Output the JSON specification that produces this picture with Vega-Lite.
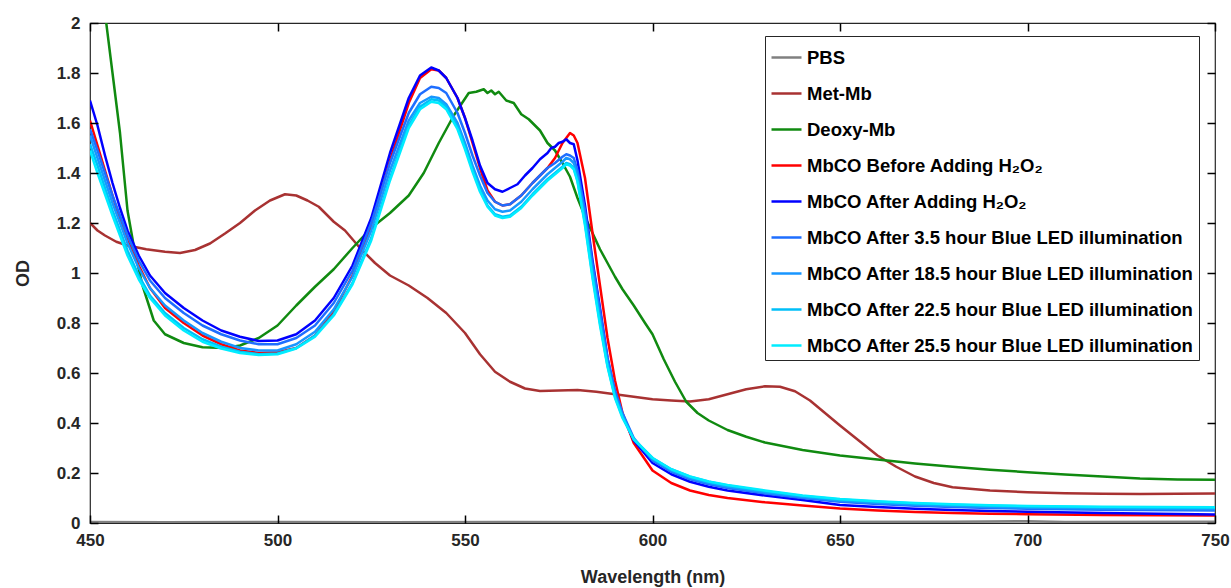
{
"$schema":"https://vega.github.io/schema/vega-lite/v6.json",
"width":1125,"height":500,
"autosize":{"type":"none"},
"padding":{"left":90,"top":23,"right":16,"bottom":65},
"background":"white",
"config":{"view":{"stroke":"#262626","strokeWidth":1.2},"font":"Liberation Sans",
"axis":{"labelFont":"Liberation Sans","labelFontWeight":"bold","labelFontSize":17,"labelColor":"#262626","labelFlush":false,"titleFont":"Liberation Sans","titleFontWeight":"bold","titleFontSize":18,"titleColor":"#262626","grid":false,"domain":false}},
"data":{"values":[
{"s":"p","x":450,"y":0.004},{"s":"p","x":470,"y":0.003},{"s":"p","x":500,"y":0.004},{"s":"p","x":530,"y":0.003},{"s":"p","x":560,"y":0.004},{"s":"p","x":600,"y":0.003},{"s":"p","x":640,"y":0.004},{"s":"p","x":680,"y":0.005},{"s":"p","x":700,"y":0.007},{"s":"p","x":710,"y":0.004},{"s":"p","x":750,"y":0.005},
{"s":"m","x":450,"y":1.2},{"s":"m","x":452,"y":1.17},{"s":"m","x":454,"y":1.15},{"s":"m","x":457,"y":1.125},{"s":"m","x":460,"y":1.11},{"s":"m","x":465,"y":1.095},{"s":"m","x":470,"y":1.085},{"s":"m","x":474,"y":1.08},{"s":"m","x":478,"y":1.092},{"s":"m","x":482,"y":1.118},{"s":"m","x":486,"y":1.158},{"s":"m","x":490,"y":1.2},{"s":"m","x":494,"y":1.25},{"s":"m","x":498,"y":1.29},{"s":"m","x":502,"y":1.315},{"s":"m","x":505,"y":1.31},{"s":"m","x":508,"y":1.29},{"s":"m","x":511,"y":1.265},{"s":"m","x":515,"y":1.205},{"s":"m","x":518,"y":1.17},{"s":"m","x":522,"y":1.1},{"s":"m","x":526,"y":1.04},{"s":"m","x":530,"y":0.99},{"s":"m","x":535,"y":0.95},{"s":"m","x":540,"y":0.9},{"s":"m","x":545,"y":0.84},{"s":"m","x":550,"y":0.76},{"s":"m","x":554,"y":0.675},{"s":"m","x":558,"y":0.605},{"s":"m","x":562,"y":0.565},{"s":"m","x":566,"y":0.538},{"s":"m","x":570,"y":0.528},{"s":"m","x":575,"y":0.53},{"s":"m","x":580,"y":0.532},{"s":"m","x":585,"y":0.525},{"s":"m","x":590,"y":0.515},{"s":"m","x":595,"y":0.505},{"s":"m","x":600,"y":0.495},{"s":"m","x":605,"y":0.49},{"s":"m","x":610,"y":0.486},{"s":"m","x":615,"y":0.495},{"s":"m","x":620,"y":0.515},{"s":"m","x":625,"y":0.535},{"s":"m","x":630,"y":0.547},{"s":"m","x":634,"y":0.545},{"s":"m","x":638,"y":0.527},{"s":"m","x":642,"y":0.49},{"s":"m","x":646,"y":0.44},{"s":"m","x":650,"y":0.39},{"s":"m","x":655,"y":0.33},{"s":"m","x":660,"y":0.27},{"s":"m","x":665,"y":0.225},{"s":"m","x":670,"y":0.186},{"s":"m","x":675,"y":0.16},{"s":"m","x":680,"y":0.143},{"s":"m","x":690,"y":0.13},{"s":"m","x":700,"y":0.123},{"s":"m","x":710,"y":0.119},{"s":"m","x":720,"y":0.117},{"s":"m","x":730,"y":0.116},{"s":"m","x":740,"y":0.117},{"s":"m","x":750,"y":0.118},
{"s":"d","x":450,"y":2.55},{"s":"d","x":452,"y":2.27},{"s":"d","x":454,"y":2.04},{"s":"d","x":456,"y":1.8},{"s":"d","x":458,"y":1.56},{"s":"d","x":460,"y":1.25},{"s":"d","x":462,"y":1.08},{"s":"d","x":464,"y":0.95},{"s":"d","x":467,"y":0.81},{"s":"d","x":470,"y":0.755},{"s":"d","x":475,"y":0.72},{"s":"d","x":480,"y":0.703},{"s":"d","x":486,"y":0.7},{"s":"d","x":490,"y":0.71},{"s":"d","x":495,"y":0.74},{"s":"d","x":500,"y":0.79},{"s":"d","x":505,"y":0.87},{"s":"d","x":510,"y":0.945},{"s":"d","x":515,"y":1.015},{"s":"d","x":520,"y":1.1},{"s":"d","x":525,"y":1.18},{"s":"d","x":530,"y":1.24},{"s":"d","x":535,"y":1.31},{"s":"d","x":539,"y":1.4},{"s":"d","x":543,"y":1.52},{"s":"d","x":547,"y":1.63},{"s":"d","x":551,"y":1.72},{"s":"d","x":553,"y":1.725},{"s":"d","x":555,"y":1.735},{"s":"d","x":556,"y":1.72},{"s":"d","x":557,"y":1.73},{"s":"d","x":558,"y":1.715},{"s":"d","x":559,"y":1.725},{"s":"d","x":561,"y":1.69},{"s":"d","x":563,"y":1.68},{"s":"d","x":565,"y":1.635},{"s":"d","x":567,"y":1.615},{"s":"d","x":570,"y":1.57},{"s":"d","x":572,"y":1.52},{"s":"d","x":574,"y":1.49},{"s":"d","x":576,"y":1.44},{"s":"d","x":578,"y":1.385},{"s":"d","x":580,"y":1.3},{"s":"d","x":582,"y":1.225},{"s":"d","x":584,"y":1.16},{"s":"d","x":586,"y":1.095},{"s":"d","x":588,"y":1.04},{"s":"d","x":590,"y":0.985},{"s":"d","x":592,"y":0.935},{"s":"d","x":595,"y":0.87},{"s":"d","x":598,"y":0.8},{"s":"d","x":600,"y":0.755},{"s":"d","x":603,"y":0.655},{"s":"d","x":606,"y":0.565},{"s":"d","x":609,"y":0.485},{"s":"d","x":612,"y":0.44},{"s":"d","x":615,"y":0.41},{"s":"d","x":620,"y":0.372},{"s":"d","x":625,"y":0.345},{"s":"d","x":630,"y":0.322},{"s":"d","x":640,"y":0.292},{"s":"d","x":650,"y":0.27},{"s":"d","x":660,"y":0.254},{"s":"d","x":670,"y":0.238},{"s":"d","x":680,"y":0.225},{"s":"d","x":690,"y":0.213},{"s":"d","x":700,"y":0.203},{"s":"d","x":710,"y":0.194},{"s":"d","x":720,"y":0.186},{"s":"d","x":730,"y":0.178},{"s":"d","x":740,"y":0.174},{"s":"d","x":750,"y":0.173},
{"s":"r","x":450,"y":1.61},{"s":"r","x":452,"y":1.51},{"s":"r","x":454,"y":1.41},{"s":"r","x":456,"y":1.31},{"s":"r","x":458,"y":1.21},{"s":"r","x":460,"y":1.13},{"s":"r","x":463,"y":1.03},{"s":"r","x":466,"y":0.94},{"s":"r","x":470,"y":0.86},{"s":"r","x":475,"y":0.8},{"s":"r","x":480,"y":0.75},{"s":"r","x":485,"y":0.715},{"s":"r","x":490,"y":0.69},{"s":"r","x":495,"y":0.68},{"s":"r","x":500,"y":0.683},{"s":"r","x":505,"y":0.7},{"s":"r","x":510,"y":0.75},{"s":"r","x":515,"y":0.845},{"s":"r","x":520,"y":0.99},{"s":"r","x":525,"y":1.19},{"s":"r","x":530,"y":1.45},{"s":"r","x":535,"y":1.68},{"s":"r","x":538,"y":1.78},{"s":"r","x":541,"y":1.815},{"s":"r","x":543,"y":1.81},{"s":"r","x":545,"y":1.78},{"s":"r","x":548,"y":1.7},{"s":"r","x":550,"y":1.62},{"s":"r","x":552,"y":1.52},{"s":"r","x":554,"y":1.42},{"s":"r","x":556,"y":1.33},{"s":"r","x":558,"y":1.285},{"s":"r","x":560,"y":1.27},{"s":"r","x":562,"y":1.275},{"s":"r","x":565,"y":1.31},{"s":"r","x":568,"y":1.36},{"s":"r","x":570,"y":1.39},{"s":"r","x":572,"y":1.42},{"s":"r","x":574,"y":1.46},{"s":"r","x":576,"y":1.52},{"s":"r","x":578,"y":1.56},{"s":"r","x":579,"y":1.55},{"s":"r","x":580,"y":1.52},{"s":"r","x":582,"y":1.38},{"s":"r","x":584,"y":1.16},{"s":"r","x":586,"y":0.95},{"s":"r","x":588,"y":0.74},{"s":"r","x":590,"y":0.57},{"s":"r","x":592,"y":0.44},{"s":"r","x":595,"y":0.32},{"s":"r","x":600,"y":0.21},{"s":"r","x":605,"y":0.16},{"s":"r","x":610,"y":0.13},{"s":"r","x":615,"y":0.112},{"s":"r","x":620,"y":0.1},{"s":"r","x":630,"y":0.083},{"s":"r","x":640,"y":0.07},{"s":"r","x":650,"y":0.058},{"s":"r","x":660,"y":0.05},{"s":"r","x":670,"y":0.044},{"s":"r","x":680,"y":0.04},{"s":"r","x":690,"y":0.037},{"s":"r","x":700,"y":0.035},{"s":"r","x":720,"y":0.032},{"s":"r","x":750,"y":0.03},
{"s":"a","x":450,"y":1.69},{"s":"a","x":452,"y":1.59},{"s":"a","x":454,"y":1.47},{"s":"a","x":456,"y":1.36},{"s":"a","x":458,"y":1.26},{"s":"a","x":460,"y":1.17},{"s":"a","x":463,"y":1.07},{"s":"a","x":466,"y":0.99},{"s":"a","x":470,"y":0.92},{"s":"a","x":475,"y":0.86},{"s":"a","x":480,"y":0.81},{"s":"a","x":485,"y":0.77},{"s":"a","x":490,"y":0.745},{"s":"a","x":495,"y":0.728},{"s":"a","x":500,"y":0.73},{"s":"a","x":505,"y":0.755},{"s":"a","x":510,"y":0.81},{"s":"a","x":515,"y":0.9},{"s":"a","x":520,"y":1.03},{"s":"a","x":525,"y":1.22},{"s":"a","x":530,"y":1.48},{"s":"a","x":535,"y":1.7},{"s":"a","x":538,"y":1.79},{"s":"a","x":541,"y":1.822},{"s":"a","x":543,"y":1.81},{"s":"a","x":545,"y":1.78},{"s":"a","x":548,"y":1.7},{"s":"a","x":550,"y":1.62},{"s":"a","x":552,"y":1.53},{"s":"a","x":554,"y":1.43},{"s":"a","x":556,"y":1.36},{"s":"a","x":558,"y":1.335},{"s":"a","x":560,"y":1.325},{"s":"a","x":562,"y":1.34},{"s":"a","x":564,"y":1.355},{"s":"a","x":566,"y":1.39},{"s":"a","x":568,"y":1.42},{"s":"a","x":570,"y":1.455},{"s":"a","x":572,"y":1.48},{"s":"a","x":573,"y":1.5},{"s":"a","x":574,"y":1.505},{"s":"a","x":575,"y":1.52},{"s":"a","x":576,"y":1.525},{"s":"a","x":577,"y":1.535},{"s":"a","x":578,"y":1.52},{"s":"a","x":579,"y":1.515},{"s":"a","x":580,"y":1.45},{"s":"a","x":582,"y":1.27},{"s":"a","x":584,"y":1.05},{"s":"a","x":586,"y":0.86},{"s":"a","x":588,"y":0.66},{"s":"a","x":590,"y":0.52},{"s":"a","x":592,"y":0.43},{"s":"a","x":595,"y":0.33},{"s":"a","x":600,"y":0.24},{"s":"a","x":605,"y":0.195},{"s":"a","x":610,"y":0.165},{"s":"a","x":615,"y":0.145},{"s":"a","x":620,"y":0.13},{"s":"a","x":630,"y":0.11},{"s":"a","x":640,"y":0.092},{"s":"a","x":650,"y":0.072},{"s":"a","x":660,"y":0.064},{"s":"a","x":670,"y":0.057},{"s":"a","x":680,"y":0.052},{"s":"a","x":690,"y":0.048},{"s":"a","x":700,"y":0.045},{"s":"a","x":720,"y":0.04},{"s":"a","x":750,"y":0.034},
{"s":"h1","x":450,"y":1.575},{"s":"h1","x":452,"y":1.49},{"s":"h1","x":454,"y":1.4},{"s":"h1","x":456,"y":1.31},{"s":"h1","x":458,"y":1.23},{"s":"h1","x":460,"y":1.15},{"s":"h1","x":463,"y":1.05},{"s":"h1","x":466,"y":0.97},{"s":"h1","x":470,"y":0.9},{"s":"h1","x":475,"y":0.84},{"s":"h1","x":480,"y":0.79},{"s":"h1","x":485,"y":0.755},{"s":"h1","x":490,"y":0.73},{"s":"h1","x":495,"y":0.715},{"s":"h1","x":500,"y":0.715},{"s":"h1","x":505,"y":0.74},{"s":"h1","x":510,"y":0.79},{"s":"h1","x":515,"y":0.88},{"s":"h1","x":520,"y":1.01},{"s":"h1","x":525,"y":1.2},{"s":"h1","x":530,"y":1.44},{"s":"h1","x":535,"y":1.64},{"s":"h1","x":538,"y":1.715},{"s":"h1","x":541,"y":1.745},{"s":"h1","x":543,"y":1.74},{"s":"h1","x":545,"y":1.72},{"s":"h1","x":548,"y":1.64},{"s":"h1","x":550,"y":1.56},{"s":"h1","x":552,"y":1.47},{"s":"h1","x":554,"y":1.39},{"s":"h1","x":556,"y":1.32},{"s":"h1","x":558,"y":1.285},{"s":"h1","x":560,"y":1.27},{"s":"h1","x":562,"y":1.275},{"s":"h1","x":565,"y":1.31},{"s":"h1","x":568,"y":1.36},{"s":"h1","x":570,"y":1.39},{"s":"h1","x":572,"y":1.42},{"s":"h1","x":574,"y":1.44},{"s":"h1","x":576,"y":1.465},{"s":"h1","x":577,"y":1.475},{"s":"h1","x":578,"y":1.47},{"s":"h1","x":579,"y":1.46},{"s":"h1","x":580,"y":1.41},{"s":"h1","x":582,"y":1.25},{"s":"h1","x":584,"y":1.04},{"s":"h1","x":586,"y":0.85},{"s":"h1","x":588,"y":0.66},{"s":"h1","x":590,"y":0.53},{"s":"h1","x":592,"y":0.44},{"s":"h1","x":595,"y":0.34},{"s":"h1","x":600,"y":0.25},{"s":"h1","x":605,"y":0.205},{"s":"h1","x":610,"y":0.175},{"s":"h1","x":615,"y":0.155},{"s":"h1","x":620,"y":0.14},{"s":"h1","x":630,"y":0.118},{"s":"h1","x":640,"y":0.1},{"s":"h1","x":650,"y":0.085},{"s":"h1","x":660,"y":0.076},{"s":"h1","x":670,"y":0.069},{"s":"h1","x":680,"y":0.064},{"s":"h1","x":690,"y":0.06},{"s":"h1","x":700,"y":0.057},{"s":"h1","x":720,"y":0.053},{"s":"h1","x":750,"y":0.05},
{"s":"h2","x":450,"y":1.55},{"s":"h2","x":452,"y":1.46},{"s":"h2","x":454,"y":1.37},{"s":"h2","x":456,"y":1.28},{"s":"h2","x":458,"y":1.2},{"s":"h2","x":460,"y":1.12},{"s":"h2","x":463,"y":1.02},{"s":"h2","x":466,"y":0.94},{"s":"h2","x":470,"y":0.87},{"s":"h2","x":475,"y":0.81},{"s":"h2","x":480,"y":0.76},{"s":"h2","x":485,"y":0.725},{"s":"h2","x":490,"y":0.7},{"s":"h2","x":495,"y":0.69},{"s":"h2","x":500,"y":0.69},{"s":"h2","x":505,"y":0.715},{"s":"h2","x":510,"y":0.765},{"s":"h2","x":515,"y":0.855},{"s":"h2","x":520,"y":0.985},{"s":"h2","x":525,"y":1.17},{"s":"h2","x":530,"y":1.41},{"s":"h2","x":535,"y":1.61},{"s":"h2","x":538,"y":1.68},{"s":"h2","x":541,"y":1.705},{"s":"h2","x":543,"y":1.7},{"s":"h2","x":545,"y":1.675},{"s":"h2","x":548,"y":1.6},{"s":"h2","x":550,"y":1.52},{"s":"h2","x":552,"y":1.43},{"s":"h2","x":554,"y":1.35},{"s":"h2","x":556,"y":1.29},{"s":"h2","x":558,"y":1.255},{"s":"h2","x":560,"y":1.245},{"s":"h2","x":562,"y":1.25},{"s":"h2","x":565,"y":1.285},{"s":"h2","x":568,"y":1.335},{"s":"h2","x":570,"y":1.365},{"s":"h2","x":572,"y":1.395},{"s":"h2","x":574,"y":1.42},{"s":"h2","x":576,"y":1.445},{"s":"h2","x":577,"y":1.46},{"s":"h2","x":578,"y":1.455},{"s":"h2","x":579,"y":1.44},{"s":"h2","x":580,"y":1.39},{"s":"h2","x":582,"y":1.22},{"s":"h2","x":584,"y":1.01},{"s":"h2","x":586,"y":0.82},{"s":"h2","x":588,"y":0.64},{"s":"h2","x":590,"y":0.51},{"s":"h2","x":592,"y":0.43},{"s":"h2","x":595,"y":0.335},{"s":"h2","x":600,"y":0.255},{"s":"h2","x":605,"y":0.21},{"s":"h2","x":610,"y":0.18},{"s":"h2","x":615,"y":0.16},{"s":"h2","x":620,"y":0.145},{"s":"h2","x":630,"y":0.122},{"s":"h2","x":640,"y":0.104},{"s":"h2","x":650,"y":0.089},{"s":"h2","x":660,"y":0.08},{"s":"h2","x":670,"y":0.073},{"s":"h2","x":680,"y":0.068},{"s":"h2","x":690,"y":0.064},{"s":"h2","x":700,"y":0.061},{"s":"h2","x":720,"y":0.058},{"s":"h2","x":750,"y":0.055},
{"s":"h3","x":450,"y":1.515},{"s":"h3","x":452,"y":1.43},{"s":"h3","x":454,"y":1.34},{"s":"h3","x":456,"y":1.25},{"s":"h3","x":458,"y":1.17},{"s":"h3","x":460,"y":1.09},{"s":"h3","x":463,"y":0.99},{"s":"h3","x":466,"y":0.91},{"s":"h3","x":470,"y":0.84},{"s":"h3","x":475,"y":0.78},{"s":"h3","x":480,"y":0.735},{"s":"h3","x":485,"y":0.705},{"s":"h3","x":490,"y":0.685},{"s":"h3","x":495,"y":0.675},{"s":"h3","x":500,"y":0.678},{"s":"h3","x":505,"y":0.7},{"s":"h3","x":510,"y":0.75},{"s":"h3","x":515,"y":0.835},{"s":"h3","x":520,"y":0.96},{"s":"h3","x":525,"y":1.14},{"s":"h3","x":530,"y":1.38},{"s":"h3","x":535,"y":1.59},{"s":"h3","x":538,"y":1.665},{"s":"h3","x":541,"y":1.695},{"s":"h3","x":543,"y":1.69},{"s":"h3","x":545,"y":1.665},{"s":"h3","x":548,"y":1.585},{"s":"h3","x":550,"y":1.505},{"s":"h3","x":552,"y":1.415},{"s":"h3","x":554,"y":1.335},{"s":"h3","x":556,"y":1.27},{"s":"h3","x":558,"y":1.235},{"s":"h3","x":560,"y":1.225},{"s":"h3","x":562,"y":1.23},{"s":"h3","x":565,"y":1.265},{"s":"h3","x":568,"y":1.315},{"s":"h3","x":570,"y":1.345},{"s":"h3","x":572,"y":1.375},{"s":"h3","x":574,"y":1.4},{"s":"h3","x":576,"y":1.425},{"s":"h3","x":577,"y":1.44},{"s":"h3","x":578,"y":1.435},{"s":"h3","x":579,"y":1.42},{"s":"h3","x":580,"y":1.37},{"s":"h3","x":582,"y":1.2},{"s":"h3","x":584,"y":0.99},{"s":"h3","x":586,"y":0.8},{"s":"h3","x":588,"y":0.63},{"s":"h3","x":590,"y":0.505},{"s":"h3","x":592,"y":0.425},{"s":"h3","x":595,"y":0.335},{"s":"h3","x":600,"y":0.26},{"s":"h3","x":605,"y":0.215},{"s":"h3","x":610,"y":0.185},{"s":"h3","x":615,"y":0.165},{"s":"h3","x":620,"y":0.15},{"s":"h3","x":630,"y":0.127},{"s":"h3","x":640,"y":0.108},{"s":"h3","x":650,"y":0.094},{"s":"h3","x":660,"y":0.085},{"s":"h3","x":670,"y":0.078},{"s":"h3","x":680,"y":0.073},{"s":"h3","x":690,"y":0.069},{"s":"h3","x":700,"y":0.066},{"s":"h3","x":720,"y":0.063},{"s":"h3","x":750,"y":0.061},
{"s":"h4","x":450,"y":1.49},{"s":"h4","x":452,"y":1.4},{"s":"h4","x":454,"y":1.315},{"s":"h4","x":456,"y":1.23},{"s":"h4","x":458,"y":1.15},{"s":"h4","x":460,"y":1.07},{"s":"h4","x":463,"y":0.975},{"s":"h4","x":466,"y":0.9},{"s":"h4","x":470,"y":0.83},{"s":"h4","x":475,"y":0.77},{"s":"h4","x":480,"y":0.725},{"s":"h4","x":485,"y":0.698},{"s":"h4","x":490,"y":0.68},{"s":"h4","x":495,"y":0.672},{"s":"h4","x":500,"y":0.675},{"s":"h4","x":505,"y":0.698},{"s":"h4","x":510,"y":0.745},{"s":"h4","x":515,"y":0.83},{"s":"h4","x":520,"y":0.955},{"s":"h4","x":525,"y":1.13},{"s":"h4","x":530,"y":1.37},{"s":"h4","x":535,"y":1.58},{"s":"h4","x":538,"y":1.655},{"s":"h4","x":541,"y":1.685},{"s":"h4","x":543,"y":1.68},{"s":"h4","x":545,"y":1.655},{"s":"h4","x":548,"y":1.575},{"s":"h4","x":550,"y":1.495},{"s":"h4","x":552,"y":1.405},{"s":"h4","x":554,"y":1.325},{"s":"h4","x":556,"y":1.265},{"s":"h4","x":558,"y":1.23},{"s":"h4","x":560,"y":1.22},{"s":"h4","x":562,"y":1.225},{"s":"h4","x":565,"y":1.26},{"s":"h4","x":568,"y":1.31},{"s":"h4","x":570,"y":1.34},{"s":"h4","x":572,"y":1.37},{"s":"h4","x":574,"y":1.395},{"s":"h4","x":576,"y":1.42},{"s":"h4","x":577,"y":1.435},{"s":"h4","x":578,"y":1.43},{"s":"h4","x":579,"y":1.415},{"s":"h4","x":580,"y":1.365},{"s":"h4","x":582,"y":1.19},{"s":"h4","x":584,"y":0.98},{"s":"h4","x":586,"y":0.79},{"s":"h4","x":588,"y":0.625},{"s":"h4","x":590,"y":0.5},{"s":"h4","x":592,"y":0.42},{"s":"h4","x":595,"y":0.335},{"s":"h4","x":600,"y":0.26},{"s":"h4","x":605,"y":0.215},{"s":"h4","x":610,"y":0.186},{"s":"h4","x":615,"y":0.166},{"s":"h4","x":620,"y":0.152},{"s":"h4","x":630,"y":0.13},{"s":"h4","x":640,"y":0.11},{"s":"h4","x":650,"y":0.096},{"s":"h4","x":660,"y":0.087},{"s":"h4","x":670,"y":0.08},{"s":"h4","x":680,"y":0.075},{"s":"h4","x":690,"y":0.071},{"s":"h4","x":700,"y":0.068},{"s":"h4","x":720,"y":0.065},{"s":"h4","x":750,"y":0.063}
]},
"layer":[
{"mark":{"type":"line","clip":true,"strokeJoin":"round","strokeCap":"butt"},
"encoding":{
"x":{"field":"x","type":"quantitative","scale":{"domain":[450,750],"nice":false,"zero":false},"axis":{"orient":"bottom","values":[450,500,550,600,650,700,750],"ticks":true,"tickSize":8,"offset":-8,"tickColor":"#000000","tickWidth":1.5,"tickOpacity":1,"zindex":2,"labelPadding":9,"title":"Wavelength (nm)","titlePadding":20}},
"y":{"field":"y","type":"quantitative","scale":{"domain":[0,2],"nice":false},"axis":{"orient":"left","values":[0,0.2,0.4,0.6,0.8,1,1.2,1.4,1.6,1.8,2],"format":"~g","ticks":true,"tickSize":8,"offset":-8,"tickColor":"#000000","tickWidth":1.5,"tickOpacity":1,"zindex":2,"labelPadding":10,"title":"OD","titlePadding":24}},
"color":{"field":"s","type":"nominal","scale":{"domain":["p","m","d","r","a","h1","h2","h3","h4"],"range":["#808080","#a83232","#108a10","#ff0000","#0000ff","#1e6eff","#1896ff","#00bff8","#00ecff"]},
"legend":{"orient":"none","legendX":675,"legendY":13,"title":null,"symbolType":"stroke","symbolSize":900,"symbolStrokeWidth":2.5,"labelFont":"Liberation Sans","labelFontWeight":"bold","labelFontSize":18.5,"labelColor":"#000000","labelLimit":600,"labelOffset":4,"rowPadding":10,"padding":5,"strokeColor":"#262626","fillColor":"white",
"labelExpr":"{'p':'PBS','m':'Met-Mb','d':'Deoxy-Mb','r':'MbCO Before Adding H₂O₂','a':'MbCO After Adding H₂O₂','h1':'MbCO After 3.5 hour Blue LED illumination','h2':'MbCO After 18.5 hour Blue LED illumination','h3':'MbCO After 22.5 hour Blue LED illumination','h4':'MbCO After 25.5 hour Blue LED illumination'}[datum.label]"}},
"strokeWidth":{"field":"s","type":"nominal","scale":{"domain":["p","m","d","r","a","h1","h2","h3","h4"],"range":[2.5,2.5,2.5,2.5,4.5,2.5,2.5,2.5,2.5]},
"legend":{"orient":"none","legendX":675,"legendY":13,"title":null,"symbolType":"stroke","symbolSize":900,"labelFont":"Liberation Sans","labelFontWeight":"bold","labelFontSize":18.5,"labelColor":"#000000","labelLimit":600,"labelOffset":4,"rowPadding":10,"padding":5,"strokeColor":"#262626","fillColor":"white",
"labelExpr":"{'p':'PBS','m':'Met-Mb','d':'Deoxy-Mb','r':'MbCO Before Adding H₂O₂','a':'MbCO After Adding H₂O₂','h1':'MbCO After 3.5 hour Blue LED illumination','h2':'MbCO After 18.5 hour Blue LED illumination','h3':'MbCO After 22.5 hour Blue LED illumination','h4':'MbCO After 25.5 hour Blue LED illumination'}[datum.label]"}}
}},
{"mark":{"type":"line","opacity":0},
"encoding":{
"x":{"field":"x","type":"quantitative","axis":{"orient":"top","values":[450,500,550,600,650,700,750],"ticks":true,"tickSize":8,"offset":-8,"tickColor":"#000000","tickWidth":1.5,"tickOpacity":1,"zindex":2,"labels":false,"title":null}},
"y":{"field":"y","type":"quantitative","axis":{"orient":"right","values":[0,0.2,0.4,0.6,0.8,1,1.2,1.4,1.6,1.8,2],"ticks":true,"tickSize":8,"offset":-8,"tickColor":"#000000","tickWidth":1.5,"tickOpacity":1,"zindex":2,"labels":false,"title":null}},
"detail":{"field":"s","type":"nominal"}
}}
],
"resolve":{"axis":{"x":"independent","y":"independent"}}
}
